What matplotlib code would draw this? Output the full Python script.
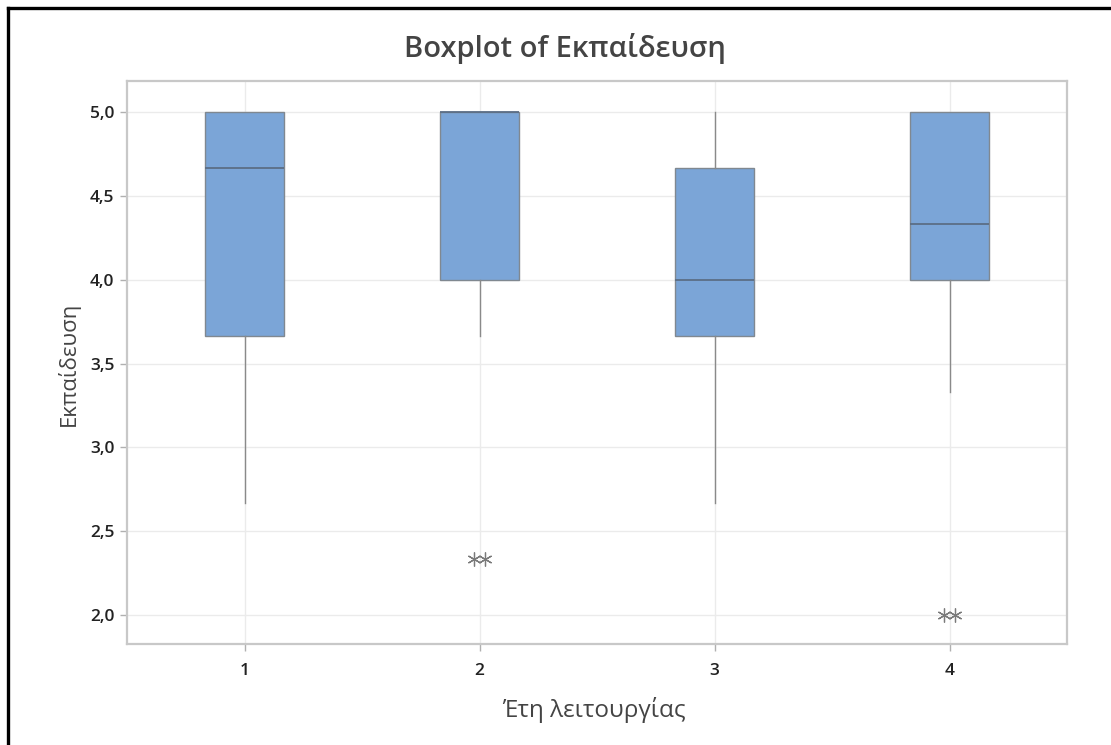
import matplotlib
matplotlib.use("Agg")
import matplotlib.pyplot as plt
from matplotlib.lines import Line2D
import matplotlib.ticker as mticker

plt.rcParams['font.family'] = ['Open Sans', 'DejaVu Sans']

# Data
categories = ["1", "2", "3", "4"]
whisker_low = [2.667, 3.667, 2.667, 3.333]
q1 = [3.667, 4.0, 3.667, 4.0]
median = [4.667, 5.0, 4.0, 4.333]
q3 = [5.0, 5.0, 4.667, 5.0]
whisker_high = [5.0, 5.0, 5.0, 5.0]
outliers = [[], [2.333, 2.333], [], [2.0, 2.0]]
yticks = [2.0, 2.5, 3.0, 3.5, 4.0, 4.5, 5.0]

W, H = 1111, 745
dpi = 100
fig = plt.figure(figsize=(W / dpi, H / dpi), dpi=dpi)
fig.patch.set_facecolor("white")

# axes placement in pixels
left, right, top, bottom = 127, 1067, 81, 644
ax = fig.add_axes([left / W, 1 - bottom / H, (right - left) / W, (bottom - top) / H])

positions = list(range(1, len(categories) + 1))
stats = []
for i in range(len(categories)):
    stats.append(dict(whislo=whisker_low[i], q1=q1[i], med=median[i], q3=q3[i],
                      whishi=whisker_high[i], fliers=[], label=categories[i]))

ax.bxp(stats, positions=positions, widths=0.335, patch_artist=True, showfliers=False,
       showcaps=False,
       boxprops=dict(facecolor="#7ba5d7", edgecolor="#808890", linewidth=1.0),
       medianprops=dict(color="#5b6e86", linewidth=1.3),
       whiskerprops=dict(color="#8a8a8a", linewidth=1.0),
       zorder=3)

# outliers as asterisks, duplicates spread side by side
for pos, vals in zip(positions, outliers):
    n = len(vals)
    for k, v in enumerate(vals):
        off = (k - (n - 1) / 2) * 0.05
        ax.plot(pos + off, v, linestyle="none", marker=(6, 2, 0), markersize=10,
                markeredgecolor="#7a7a7a", markeredgewidth=0.9, color="#7a7a7a", zorder=4)

ax.set_xlim(0.5, 4.5)
ax.set_ylim(1.827, 5.185)
ax.set_yticks(yticks)
ax.yaxis.set_major_formatter(mticker.FuncFormatter(lambda v, p: f"{v:.1f}".replace(".", ",")))
ax.set_xticks(positions)
ax.set_xticklabels(categories)

ax.grid(True, color="#ebebeb", linewidth=1.0, zorder=0)
ax.set_axisbelow(True)
for s in ax.spines.values():
    s.set_color("#c8c8c8")
    s.set_linewidth(1.6)
ax.tick_params(axis="both", colors="#b0b0b0", length=5, width=1.0, labelcolor="#222222",
               labelsize=12.5)
ax.tick_params(axis="x", pad=9)
ax.tick_params(axis="y", pad=4)
for lab in ax.get_xticklabels() + ax.get_yticklabels():
    lab.set_fontweight("semibold")

fig.text(565 / W, 1 - 49 / H, "Boxplot of Εκπαίδευση", ha="center", va="center",
         fontsize=21, color="#444444", fontweight="semibold")
fig.text(594 / W, 1 - 710 / H, "Έτη λειτουργίας", ha="center", va="center",
         fontsize=17.5, color="#444444")
fig.text(68 / W, 1 - 364 / H, "Εκπαίδευση", ha="center", va="center", rotation=90,
         fontsize=16, color="#444444")

# black frame lines (top and left, as in the screenshot)
fig.add_artist(Line2D([8 / W, 8 / W], [0, 1 - 8 / H], transform=fig.transFigure,
                      color="black", linewidth=2.4))
fig.add_artist(Line2D([8 / W, 1], [1 - 8 / H, 1 - 8 / H], transform=fig.transFigure,
                      color="black", linewidth=2.4))

fig.savefig("out.png", dpi=dpi)
